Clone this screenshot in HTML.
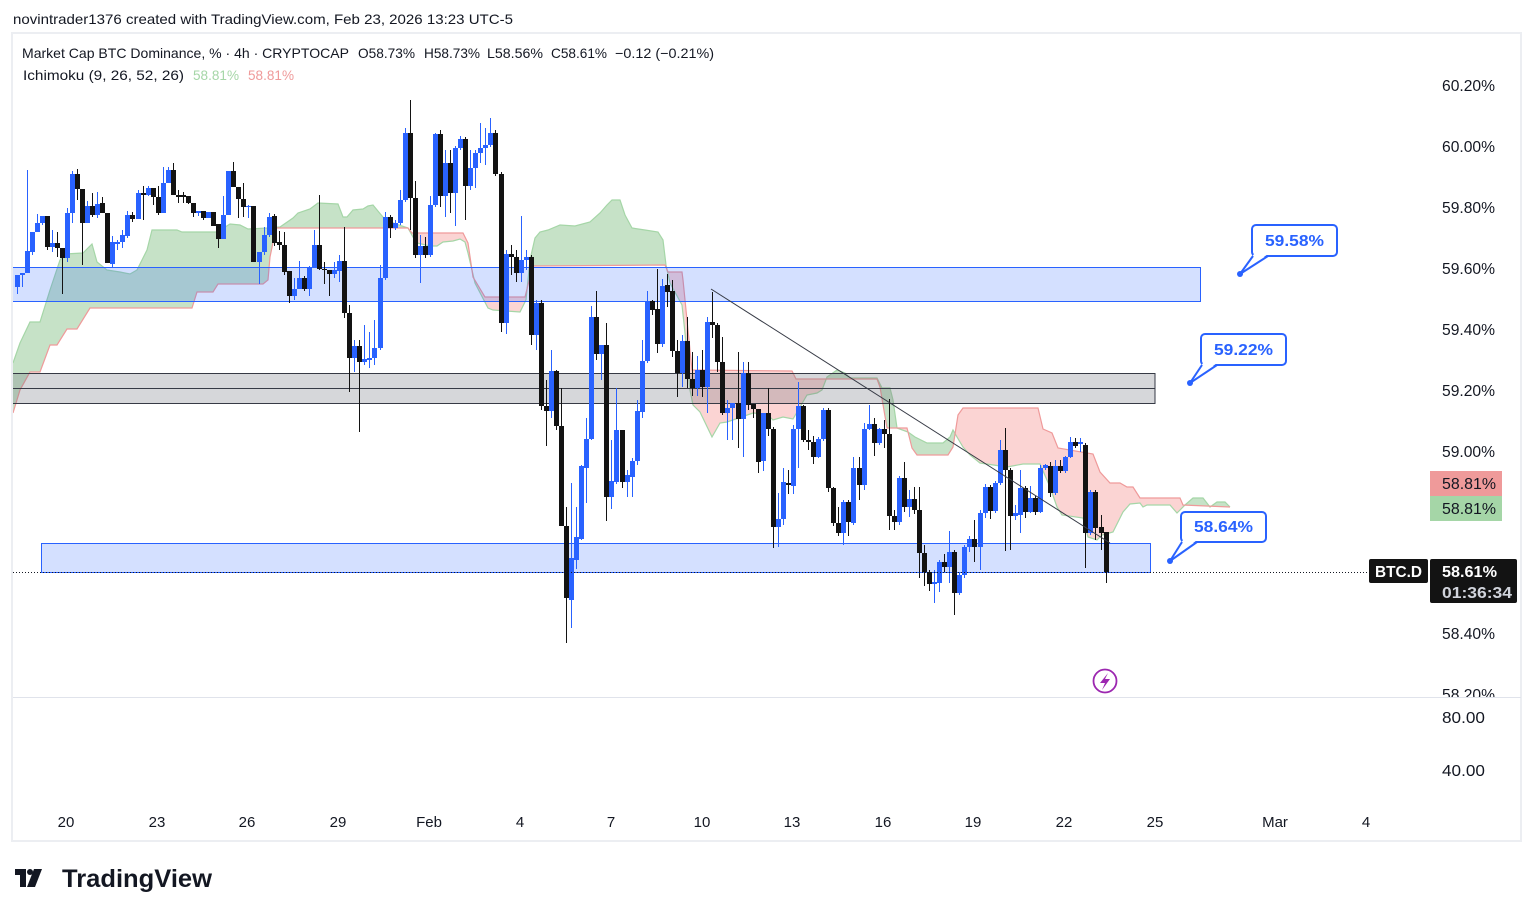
<!DOCTYPE html>
<html><head><meta charset="utf-8">
<style>
html,body{margin:0;padding:0;background:#fff;}
svg{display:block;}
text{font-family:"Liberation Sans",sans-serif;}
</style></head><body>
<svg id="s" width="1534" height="916" viewBox="0 0 1534 916" xmlns="http://www.w3.org/2000/svg">
<defs>
<clipPath id="pane"><rect x="13" y="34" width="1407" height="663"/></clipPath>
<clipPath id="axis"><rect x="1420" y="34" width="101" height="663"/></clipPath>
</defs>
<rect x="0" y="0" width="1534" height="916" fill="#fff"/>
<!-- outer frame -->
<rect x="12" y="33" width="1509" height="808" fill="none" stroke="#eceef2" stroke-width="2"/>

<!-- header -->
<text x="13" y="24" font-size="14" fill="#131722" textLength="500" lengthAdjust="spacingAndGlyphs">novintrader1376 created with TradingView.com, Feb 23, 2026 13:23 UTC-5</text>
<text x="22" y="58" font-size="14" fill="#131722" textLength="327" lengthAdjust="spacingAndGlyphs">Market Cap BTC Dominance, % · 4h · CRYPTOCAP</text>
<text x="358" y="58" font-size="14" fill="#131722" textLength="57" lengthAdjust="spacingAndGlyphs">O58.73%</text>
<text x="424" y="58" font-size="14" fill="#131722" textLength="56" lengthAdjust="spacingAndGlyphs">H58.73%</text>
<text x="487" y="58" font-size="14" fill="#131722" textLength="56" lengthAdjust="spacingAndGlyphs">L58.56%</text>
<text x="551" y="58" font-size="14" fill="#131722" textLength="56" lengthAdjust="spacingAndGlyphs">C58.61%</text>
<text x="615" y="58" font-size="14" fill="#131722" textLength="99" lengthAdjust="spacingAndGlyphs">−0.12 (−0.21%)</text>
<text x="23" y="80" font-size="14" fill="#131722" textLength="161" lengthAdjust="spacingAndGlyphs">Ichimoku (9, 26, 52, 26)</text>
<text x="193" y="80" font-size="14" fill="#a5d6a7" textLength="46" lengthAdjust="spacingAndGlyphs">58.81%</text>
<text x="248" y="80" font-size="14" fill="#ef9a9a" textLength="46" lengthAdjust="spacingAndGlyphs">58.81%</text>

<g clip-path="url(#pane)">
  <g id="cloud"></g>
  <!-- zones -->
  <rect x="5" y="267.5" width="1195.5" height="34" fill="rgba(41,98,255,0.2)" stroke="#2962ff" stroke-width="1"/>
  <rect x="5" y="373.5" width="1150" height="30" fill="rgba(120,123,134,0.3)" stroke="#363a45" stroke-width="1"/>
  <line x1="5" y1="388.5" x2="1155" y2="388.5" stroke="#363a45" stroke-width="1"/>
  <rect x="41.5" y="543.5" width="1109" height="29" fill="rgba(41,98,255,0.2)" stroke="#2962ff" stroke-width="1"/>
  <g id="candles" shape-rendering="crispEdges"></g>
  <line x1="711" y1="289" x2="1110" y2="543" stroke="#363a45" stroke-width="1"/>
  <line x1="13" y1="572.5" x2="1369" y2="572.5" stroke="#131722" stroke-width="1" stroke-dasharray="1,2"/>
  <!-- callouts -->
  <g>
    <rect x="1252" y="225" width="85" height="31" rx="4" fill="#fff" stroke="#2962ff" stroke-width="2"/>
    <polygon points="1254,254 1268,254 1240,274" fill="#fff"/>
    <line x1="1253" y1="256" x2="1240" y2="274" stroke="#2962ff" stroke-width="2"/>
    <line x1="1268" y1="256" x2="1240" y2="274" stroke="#2962ff" stroke-width="2"/>
    <circle cx="1240" cy="274" r="3" fill="#2962ff"/>
    <text x="1294.5" y="246" font-size="16" font-weight="bold" fill="#2962ff" text-anchor="middle" textLength="59" lengthAdjust="spacingAndGlyphs">59.58%</text>
  </g>
  <g>
    <rect x="1201" y="334" width="85" height="31" rx="4" fill="#fff" stroke="#2962ff" stroke-width="2"/>
    <polygon points="1203,363 1217,363 1190,383" fill="#fff"/>
    <line x1="1202" y1="365" x2="1190" y2="383" stroke="#2962ff" stroke-width="2"/>
    <line x1="1217" y1="365" x2="1190" y2="383" stroke="#2962ff" stroke-width="2"/>
    <circle cx="1190" cy="383" r="3" fill="#2962ff"/>
    <text x="1243.5" y="355" font-size="16" font-weight="bold" fill="#2962ff" text-anchor="middle" textLength="59" lengthAdjust="spacingAndGlyphs">59.22%</text>
  </g>
  <g>
    <rect x="1181" y="512" width="85" height="30" rx="4" fill="#fff" stroke="#2962ff" stroke-width="2"/>
    <polygon points="1183,540 1197,540 1170,561" fill="#fff"/>
    <line x1="1182" y1="542" x2="1170" y2="561" stroke="#2962ff" stroke-width="2"/>
    <line x1="1197" y1="542" x2="1170" y2="561" stroke="#2962ff" stroke-width="2"/>
    <circle cx="1170" cy="561" r="3" fill="#2962ff"/>
    <text x="1223.5" y="532" font-size="16" font-weight="bold" fill="#2962ff" text-anchor="middle" textLength="59" lengthAdjust="spacingAndGlyphs">58.64%</text>
  </g>
  <!-- lightning -->
  <circle cx="1105" cy="681" r="11.5" fill="#fff" stroke="#9c27b0" stroke-width="1.8"/>
  <polygon points="1108,673 1100,683 1105,683 1102,690 1110,679 1105,679" fill="#9c27b0"/>
</g>

<!-- pane separator -->
<line x1="13" y1="697.5" x2="1521" y2="697.5" stroke="#e0e3eb" stroke-width="1"/>

<!-- price axis -->
<g clip-path="url(#axis)" font-size="16" fill="#131722">
  <text x="1442" y="91" textLength="53" lengthAdjust="spacingAndGlyphs">60.20%</text>
  <text x="1442" y="152" textLength="53" lengthAdjust="spacingAndGlyphs">60.00%</text>
  <text x="1442" y="213" textLength="53" lengthAdjust="spacingAndGlyphs">59.80%</text>
  <text x="1442" y="274" textLength="53" lengthAdjust="spacingAndGlyphs">59.60%</text>
  <text x="1442" y="335" textLength="53" lengthAdjust="spacingAndGlyphs">59.40%</text>
  <text x="1442" y="396" textLength="53" lengthAdjust="spacingAndGlyphs">59.20%</text>
  <text x="1442" y="457" textLength="53" lengthAdjust="spacingAndGlyphs">59.00%</text>
  <text x="1442" y="639" textLength="53" lengthAdjust="spacingAndGlyphs">58.40%</text>
  <text x="1442" y="700" textLength="53" lengthAdjust="spacingAndGlyphs">58.20%</text>
</g>
<!-- ichimoku tags -->
<rect x="1430" y="471" width="72" height="25" fill="#ef9a9a"/>
<text x="1442" y="489" font-size="16" fill="#131722" textLength="54" lengthAdjust="spacingAndGlyphs">58.81%</text>
<rect x="1430" y="496" width="72" height="25" fill="#a5d6a7"/>
<text x="1442" y="514" font-size="16" fill="#131722" textLength="54" lengthAdjust="spacingAndGlyphs">58.81%</text>
<!-- price tags -->
<rect x="1369" y="559" width="59" height="24" rx="2" fill="#131313"/>
<text x="1398.5" y="577" font-size="16" font-weight="bold" fill="#fff" text-anchor="middle" textLength="47" lengthAdjust="spacingAndGlyphs">BTC.D</text>
<rect x="1430" y="559" width="87" height="44" rx="2" fill="#131313"/>
<text x="1442" y="577" font-size="16" font-weight="bold" fill="#fff" textLength="55" lengthAdjust="spacingAndGlyphs">58.61%</text>
<text x="1442" y="598" font-size="16" font-weight="bold" fill="#d1d4dc" textLength="70" lengthAdjust="spacingAndGlyphs">01:36:34</text>

<!-- lower pane labels -->
<text x="1442" y="723" font-size="16" fill="#131722" textLength="43" lengthAdjust="spacingAndGlyphs">80.00</text>
<text x="1442" y="776" font-size="16" fill="#131722" textLength="43" lengthAdjust="spacingAndGlyphs">40.00</text>

<!-- time axis -->
<g font-size="15" fill="#131722" text-anchor="middle">
  <text x="66" y="827">20</text>
  <text x="157" y="827">23</text>
  <text x="247" y="827">26</text>
  <text x="338" y="827">29</text>
  <text x="429" y="827">Feb</text>
  <text x="520" y="827">4</text>
  <text x="611" y="827">7</text>
  <text x="702" y="827">10</text>
  <text x="792" y="827">13</text>
  <text x="883" y="827">16</text>
  <text x="973" y="827">19</text>
  <text x="1064" y="827">22</text>
  <text x="1155" y="827">25</text>
  <text x="1275" y="827">Mar</text>
  <text x="1366" y="827">4</text>
</g>

<!-- logo -->
<g fill="#131722">
  <rect x="15" y="869" width="11" height="6"/>
  <rect x="20" y="869" width="6" height="18"/>
  <circle cx="30" cy="872" r="3"/>
  <polygon points="34,869 42,869 35,887 27,887"/>
</g>
<text x="62" y="887" font-size="25" font-weight="bold" fill="#131722" textLength="150" lengthAdjust="spacingAndGlyphs">TradingView</text>
</svg>
<script>
(function(){
var A=[[13,363],[20,343],[30,322],[40,322],[50,290],[60,260],[65,254],[83,253],[92,244],[97,262],[107,270],[120,272],[130,274],[137,270],[147,250],[152,230],[177,230],[182,232],[217,232],[230,224],[240,225],[248,229],[267,228],[280,227],[293,218],[298,213],[310,209],[318,203],[338,204],[343,217],[347,217],[353,210],[363,209],[368,206],[373,205],[387,222],[393,223],[408,228],[413,237],[417,243],[430,246],[437,246],[443,242],[453,241],[460,239],[465,242],[468,253],[475,283],[488,308],[493,310],[520,312],[526,300],[530,260],[535,238],[540,232],[548,230],[560,225],[575,226],[590,222],[600,213],[607,205],[612,200],[620,200],[625,215],[632,228],[645,230],[658,232],[663,240],[666,265],[670,283],[682,305],[685,333],[690,390],[693,405],[700,412],[712,437],[720,423],[727,422],[753,413],[767,414],[773,420],[783,417],[793,419],[807,395],[817,393],[822,390],[827,377],[837,370],[845,373],[850,378],[877,378],[882,388],[890,388],[893,400],[897,428],[908,432],[915,437],[927,443],[943,443],[950,437],[953,430],[957,437],[963,447],[970,455],[980,463],[1007,467],[1023,464],[1040,464],[1050,487],[1057,507],[1062,515],[1083,518],[1088,537],[1097,540],[1102,535],[1113,532],[1123,512],[1130,504],[1140,503],[1143,507],[1147,505],[1170,505],[1177,513],[1185,505],[1193,498],[1203,498],[1210,507],[1217,502],[1225,502],[1230,507]];
var B=[[13,413],[20,390],[30,372],[40,372],[50,345],[57,345],[67,329],[77,329],[90,308],[192,308],[197,292],[213,292],[218,284],[263,284],[268,280],[270,257],[276,228],[408,228],[412,233],[463,233],[468,243],[473,277],[485,297],[525,297],[528,285],[533,266],[665,265],[668,272],[682,272],[683,280],[692,370],[792,371],[796,379],[877,379],[880,387],[887,428],[907,428],[912,448],[917,455],[948,455],[953,447],[958,415],[963,408],[1038,408],[1043,429],[1052,433],[1058,448],[1093,454],[1100,472],[1110,483],[1120,483],[1127,487],[1133,487],[1140,498],[1180,498],[1183,505],[1230,507]];
function s(p){return p.map(function(q){return q[0]+','+q[1];}).join(' ');}
var pa=s(A),pb=s(B),poly=s(A.concat(B.slice().reverse()));
var h='';
h+='<clipPath id="ab"><polygon points="'+pb+' 1240,507 1240,0 0,0 0,413"/></clipPath>';
h+='<clipPath id="bl"><polygon points="'+pb+' 1240,507 1240,916 0,916 0,413"/></clipPath>';
h+='<polygon points="'+poly+'" fill="rgba(67,160,71,0.3)" clip-path="url(#ab)"/>';
h+='<polygon points="'+poly+'" fill="rgba(239,83,80,0.25)" clip-path="url(#bl)"/>';
h+='<polyline points="'+pa+'" fill="none" stroke="#a5d6a7" stroke-width="1.2"/>';
h+='<polyline points="'+pb+'" fill="none" stroke="#ef9a9a" stroke-width="1.2"/>';
document.getElementById('cloud').innerHTML=h;

var D=[[275,287,275,294,1],[273,275,273,287,1],[251,273,170,273,1],[232,252,232,255,1],[223,232,214,232,1],[216,223,216,225,1],[216,247,216,250,0],[243,247,230,252,1],[243,248,232,257,0],[248,258,248,294,0],
[213,258,208,262,1],[174,213,171,223,1],[174,189,169,200,0],[189,223,189,265,0],[206,223,201,223,1],[206,215,193,217,0],[204,215,192,218,1],[203,213,197,213,0],[213,263,213,263,0],[242,264,236,268,1],
[242,244,240,250,1],[235,242,230,248,1],[215,236,211,238,1],[215,219,212,222,0],[193,219,190,219,1],[193,195,186,220,0],[188,195,186,196,1],[188,197,188,205,0],[197,213,186,215,0],[183,213,167,213,1],
[170,183,167,183,1],[170,195,163,195,0],[195,197,190,203,0],[195,197,192,203,0],[196,203,196,204,0],[203,213,203,217,0],[211,213,211,216,1],[211,218,211,220,0],[212,218,212,216,1],[212,226,212,226,0],
[224,239,224,248,0],[215,239,196,239,1],[171,215,171,215,1],[171,187,162,187,0],[187,199,187,218,0],[199,207,183,217,0],[206,207,205,218,1],[206,262,206,262,0],[252,262,252,284,1],[235,252,227,255,1],
[217,235,213,237,1],[216,243,214,246,0],[242,245,231,250,0],[245,272,232,275,0],[271,296,271,303,0],[289,296,278,300,1],[278,289,261,289,1],[278,289,276,291,0],[267,289,266,296,1],[245,267,230,267,1],
[245,269,195,270,0],[269,270,262,284,0],[270,274,270,296,0],[270,274,262,278,1],[261,271,255,282,1],[261,313,227,318,0],[313,358,305,392,0],[346,358,340,372,1],[346,362,340,432,0],[359,362,325,365,1],
[358,360,332,368,1],[348,358,320,365,1],[278,348,265,350,1],[217,278,212,280,1],[217,228,215,238,0],[223,228,220,230,1],[200,223,190,225,1],[133,200,128,202,1],[133,198,100,230,0],[198,255,181,258,0],
[246,255,235,283,1],[246,255,237,258,0],[205,255,196,257,1],[134,205,133,207,1],[134,196,130,207,0],[163,196,150,217,1],[163,193,150,213,0],[148,193,146,226,1],[139,148,136,150,1],[139,186,137,220,0],
[168,186,150,190,1],[153,168,150,188,1],[148,153,123,163,1],[145,148,128,165,1],[133,145,118,147,1],[133,174,130,176,0],[174,323,172,332,0],[254,323,250,334,1],[254,257,245,275,0],[257,273,250,282,0],
[260,273,216,282,1],[257,260,250,270,1],[257,335,255,345,0],[303,335,300,350,1],[303,406,300,410,0],[406,411,380,446,0],[371,411,350,418,1],[371,426,370,430,0],[426,526,388,526,0],[526,598,507,643,0],
[558,600,483,628,1],[537,560,507,569,1],[466,539,465,540,1],[439,468,418,503,1],[317,439,306,440,1],[317,354,291,360,0],[345,354,345,380,1],[345,497,323,521,0],[481,497,440,509,1],[430,482,388,484,1],
[430,482,430,488,0],[475,482,470,497,1],[461,477,458,497,1],[411,461,400,465,1],[361,412,340,418,1],[301,361,291,363,1],[301,310,300,315,0],[309,344,269,353,0],[286,344,279,347,1],[285,292,274,307,0],
[291,351,280,357,0],[351,373,340,397,0],[341,373,335,387,1],[341,379,317,388,0],[379,388,352,396,0],[370,388,356,396,1],[370,387,350,397,0],[322,387,317,413,1],[322,325,292,338,0],[325,362,323,372,0],
[362,413,337,415,0],[408,413,400,440,1],[403,408,403,440,1],[403,419,352,448,0],[373,419,362,457,1],[373,405,362,410,0],[404,409,404,418,0],[409,462,409,473,0],[413,461,413,471,1],[413,429,388,436,0],
[429,527,427,548,0],[519,527,493,547,1],[482,519,468,525,1],[483,485,470,494,0],[429,486,425,494,1],[406,429,382,468,1],[406,440,405,442,0],[440,442,430,450,0],[442,457,436,464,0],[439,457,437,458,1],
[410,439,408,441,1],[410,488,408,492,0],[488,523,487,526,0],[523,533,507,536,0],[502,533,500,545,1],[502,522,500,536,0],[468,523,457,525,1],[468,485,457,500,0],[429,485,423,490,1],[424,429,405,430,1],
[424,443,418,456,0],[429,443,428,445,1],[429,434,420,448,0],[434,516,399,530,0],[516,522,510,530,0],[478,522,476,525,1],[478,507,462,512,0],[499,507,490,517,1],[499,510,487,514,0],[510,553,487,578,0],
[553,572,545,586,0],[572,584,570,591,0],[582,584,570,603,1],[562,583,560,592,1],[562,567,554,572,0],[552,567,531,583,1],[552,593,550,615,0],[575,593,573,595,1],[547,575,545,578,1],[539,547,536,552,1],
[539,547,520,562,0],[513,547,510,570,1],[487,513,484,518,1],[487,511,485,519,0],[483,511,481,513,1],[450,483,440,485,1],[450,470,428,551,0],[470,516,468,550,0],[513,516,505,520,1],[488,515,470,533,1],
[488,512,486,518,0],[498,512,486,513,1],[498,512,496,515,0],[468,512,465,513,1],[465,468,464,470,1],[466,493,462,497,0],[466,493,460,495,1],[466,471,460,473,0],[457,471,456,473,1],[442,457,437,458,1],
[442,446,438,448,0],[442,444,438,452,1],[445,533,443,568,0],[492,533,490,535,1],[492,528,490,540,0],[527,533,515,550,0],[532,572,532,583,0]];
var g='';
for(var i=0;i<D.length;i++){
 var c=D[i],x=16.5+i*5.042,col=c[4]?'#2962ff':'#131313';
 g+='<rect x="'+Math.round(x)+'" y="'+c[2]+'" width="1" height="'+Math.max(1,c[3]-c[2])+'" fill="'+col+'"/>';
 g+='<rect x="'+(Math.round(x)-2)+'" y="'+c[0]+'" width="5" height="'+Math.max(1,c[1]-c[0])+'" fill="'+col+'"/>';
}
document.getElementById('candles').innerHTML=g;
})();
</script>
</body></html>
